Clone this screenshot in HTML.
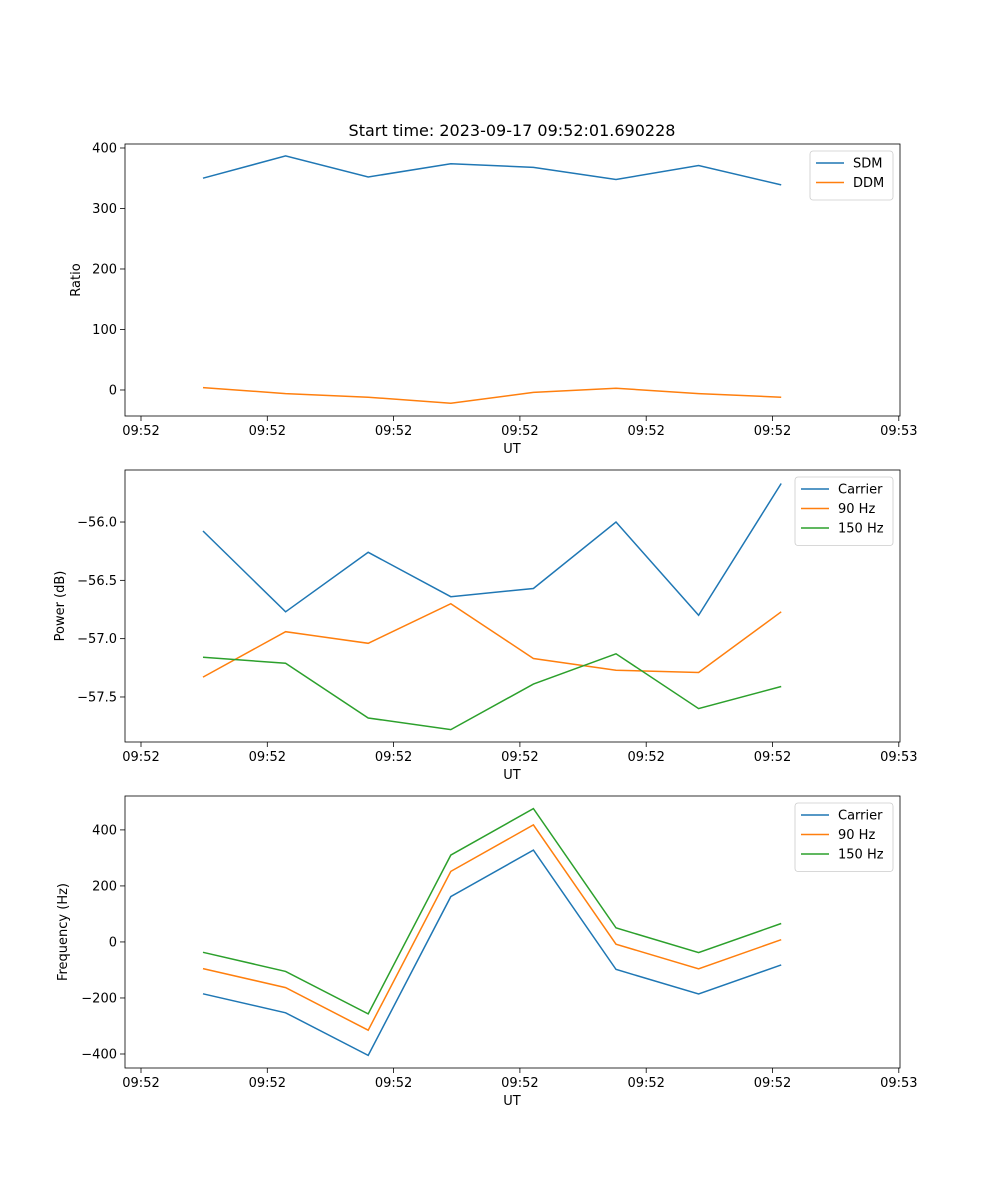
<!DOCTYPE html>
<html><head><meta charset="utf-8"><style>
html,body{margin:0;padding:0;background:#fff;}
svg{display:block;font-family:"DejaVu Sans","Liberation Sans",sans-serif;}
</style></head><body>
<svg id="fig" width="1000" height="1200" xmlns="http://www.w3.org/2000/svg">
<text x="512" y="136" font-size="16" text-anchor="middle">Start time: 2023-09-17 09:52:01.690228</text>
</svg>
<script>
const xTimes = [0.491, 1.145, 1.799, 2.453, 3.107, 3.761, 4.415, 5.069];
const xTickVals = [0, 1, 2, 3, 4, 5, 6];
const xTickLabels = ["09:52","09:52","09:52","09:52","09:52","09:52","09:53"];
const sdm = [350, 387, 352, 374, 368, 348, 371, 339];
const ddm = [4, -6, -12, -22, -4, 3, -6, -12];
const ratioTicks = [0, 100, 200, 300, 400];
const powCarrier = [-56.077, -56.77, -56.26, -56.64, -56.57, -56.0, -56.80, -55.67];
const pow90 = [-57.33, -56.94, -57.04, -56.70, -57.17, -57.27, -57.29, -56.77];
const pow150 = [-57.16, -57.21, -57.68, -57.78, -57.39, -57.13, -57.60, -57.41];
const powTicks = [-57.5, -57.0, -56.5, -56.0];
const powTickLabels = ["\u221257.5","\u221257.0","\u221256.5","\u221256.0"];
const freqCarrier = [-185, -253, -405, 162, 328, -98, -186, -82];
const freq90 = [-95, -163, -315, 252, 418, -8, -96, 8];
const freq150 = [-37, -105, -257, 310, 476, 50, -38, 66];
const freqTicks = [-400, -200, 0, 200, 400];
const freqTickLabels = ["\u2212400","\u2212200","0","200","400"];

const NS="http://www.w3.org/2000/svg";
const svg=document.getElementById('fig');
const C=['#1f77b4','#ff7f0e','#2ca02c'];
function mk(t,a,p){const e=document.createElementNS(NS,t);for(const k in a)e.setAttribute(k,a[k]);(p||svg).appendChild(e);return e;}
const L=125,R=900;
function xs(u){return 141+u*126.3;}

function panel(name,top,bottom,ymin,ymax,yTicks,yLabels,ylabel,series,names,legW){
  const g=mk('g',{});
  
  
  const ys=v=>bottom-(v-ymin)/(ymax-ymin)*(bottom-top);
  series.forEach((s,si)=>{
    const pts=s.map((v,i)=>xs(xTimes[i]).toFixed(1)+','+ys(v).toFixed(1)).join(' ');
    const pl=mk('polyline',{points:pts,fill:'none',stroke:C[si],'stroke-width':1.5},g);
    
    
  });
  const fr=mk('rect',{x:L,y:top,width:R-L,height:bottom-top,fill:'none',stroke:'#000','stroke-width':0.8},g);
  
  
  xTickVals.forEach((u,i)=>{
    const x=xs(u);
    mk('line',{x1:x,x2:x,y1:bottom,y2:bottom+5,stroke:'#000','stroke-width':0.8},g);
    const t=mk('text',{x:x,y:bottom+19,'font-size':13,'text-anchor':'middle'},g);
    t.textContent=xTickLabels[i];
    
    
  });
  yTicks.forEach((v,i)=>{
    const y=ys(v);
    mk('line',{x1:L-5,x2:L,y1:y,y2:y,stroke:'#000','stroke-width':0.8},g);
    const t=mk('text',{x:L-8,y:y+4.5,'font-size':13,'text-anchor':'end'},g);
    t.textContent=yLabels[i];
    
    
  });
  const xl=mk('text',{x:512,y:bottom+37,'font-size':13,'text-anchor':'middle'},g);
  xl.textContent='UT';
  
  
  const yx= name==='ratio'?80:(name==='power'?64:67);
  const yl=mk('text',{x:yx,y:(top+bottom)/2,'font-size':13,'text-anchor':'middle',transform:`rotate(-90 ${yx} ${(top+bottom)/2})`},g);
  yl.textContent=ylabel;
  
  
  const lx=R-7-legW, ly=top+7, lh=10+names.length*19.5;
  const lg=mk('g',{},g);
  
  
  mk('rect',{x:lx,y:ly,width:legW,height:lh,rx:3,fill:'#fff','fill-opacity':0.8,stroke:'#ccc','stroke-width':0.8},lg);
  names.forEach((n,i)=>{
    const yy=ly+12+i*19.5;
    mk('line',{x1:lx+6,x2:lx+34,y1:yy,y2:yy,stroke:C[i],'stroke-width':1.5},lg);
    const t=mk('text',{x:lx+43,y:yy+4.5,'font-size':13},lg);
    t.textContent=n;
    
    
  });
}
panel('ratio',144,416,-43,406.6,ratioTicks,ratioTicks.map(String),'Ratio',[sdm,ddm],['SDM','DDM'],83);
panel('power',470,742,-57.886,-55.554,powTicks,powTickLabels,'Power (dB)',[powCarrier,pow90,pow150],['Carrier','90 Hz','150 Hz'],98);
panel('frequency',796,1068,-450,521,freqTicks,freqTickLabels,'Frequency (Hz)',[freqCarrier,freq90,freq150],['Carrier','90 Hz','150 Hz'],98);
</script>
</body></html>
